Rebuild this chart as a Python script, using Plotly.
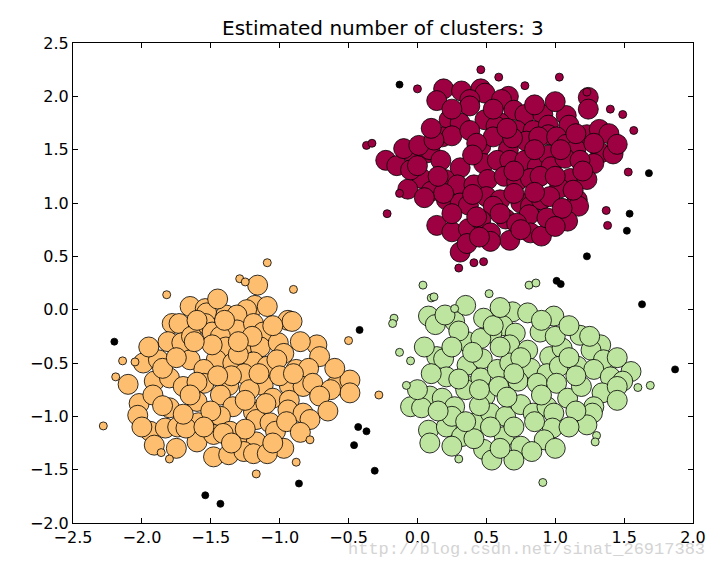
import plotly.graph_objects as go

# ---- data ----
red_core = [(0.19,2.07),(0.32,2.05),(0.46,2.07),(0.49,2.03),(0.14,1.96),(0.38,1.97),(0.38,1.91),(0.66,2.00),
            (0.61,1.97),(0.70,1.87),(0.78,1.83),(0.91,1.83),(1.08,1.82),(1.10,1.73),(1.24,1.99),(1.24,1.88),
            (0.23,1.78),(0.31,1.75),(0.49,1.78),(0.60,1.75),(0.57,1.72),(0.72,1.68),(0.84,1.68),(0.95,1.73),
            (0.95,1.64),(1.23,1.64),(1.32,1.69),(1.39,1.65),(1.33,1.47),(1.42,1.46),(1.28,1.37),(-0.23,1.40),
            (-0.15,1.35),(-0.03,1.46),(0.07,1.47),(0.09,1.50),(0.17,1.40),(0.18,1.62),(0.25,1.63),(0.38,1.68),
            (0.46,1.53),(0.55,1.62),(0.66,1.50),(0.79,1.58),(0.88,1.62),(1.01,1.62),(1.08,1.55),(1.15,1.50),
            (0.31,1.33),(0.48,1.37),(0.58,1.40),(0.67,1.40),(0.78,1.40),(0.87,1.34),(0.95,1.45),(0.97,1.34),
            (1.07,1.42),(0.03,1.23),(-0.07,1.13),(0.10,1.11),(0.20,1.22),(0.29,1.17),(0.41,1.17),(0.51,1.22),
            (0.63,1.25),(0.72,1.20),(0.82,1.23),(0.89,1.25),(1.11,1.23),(1.23,1.22),(1.03,1.14),(1.16,1.03),
            (1.17,0.97),(0.21,1.03),(0.31,1.00),(0.37,0.98),(0.50,1.06),(0.60,1.03),(0.55,0.97),(0.75,1.00),
            (0.82,0.97),(0.90,1.03),(0.96,1.06),(0.14,0.79),(0.25,0.73),(0.37,0.76),(0.46,0.84),(0.53,0.72),
            (0.64,0.85),(0.67,0.65),(0.81,0.89),(0.82,0.72),(0.90,0.69),(0.94,0.86),(1.09,0.83),(0.31,0.54),
            (0.53,0.64),(-0.10,1.51),(0.01,1.54),(0.12,1.59),(0.43,1.56),(0.69,1.61),(1.04,1.50),(1.18,1.40),
            (0.19,1.09),(0.70,1.09),(0.43,0.87),(0.72,0.81),(0.36,0.62),(1.13,1.12),(1.28,1.56),(-0.05,1.31),
            (0.25,1.88),(0.55,1.88),(0.85,1.92),(1.00,1.95),(0.10,1.70),(0.65,1.70),(1.15,1.65),(1.45,1.55),
            (0.00,1.35),(0.40,1.45),(0.85,1.50),(1.20,1.30),(0.15,1.25),(0.70,1.30),(1.00,1.25),(0.40,1.08),
            (0.85,1.10),(1.05,0.95),(0.25,0.90),(0.60,0.90),(0.75,0.75),(0.45,0.68),(1.00,0.78),(0.05,1.05)]
red_edge = [(0.46,2.25),(0.59,2.18),(1.03,2.18),(0.78,2.10),(0.00,2.07),(1.23,2.04),(1.40,1.88),(1.49,1.83),
            (1.57,1.68),(-0.37,1.54),(-0.33,1.56),(1.53,1.29),(-0.13,1.09),(-0.22,0.90),(1.37,0.93),(1.38,0.79),
            (0.30,0.39),(0.41,0.44),(0.48,0.45)]

orange_core = [(-1.16,0.23),(-1.18,0.04),(-1.09,0.03),(-1.24,0.00),(-1.65,0.03),(-1.54,0.01),(-1.53,-0.03),
               (-1.39,-0.05),(-1.31,-0.05),(-0.94,-0.10),(-0.91,-0.11),(-1.78,-0.13),(-1.73,-0.13),(-1.54,-0.13),
               (-1.49,-0.21),(-1.31,-0.19),(-1.19,-0.13),(-1.12,-0.21),(-1.81,-0.30),(-1.71,-0.31),(-1.64,-0.25),
               (-1.43,-0.25),(-1.39,-0.35),(-1.26,-0.33),(-1.14,-0.35),(-1.01,-0.31),(-0.97,-0.41),(-0.73,-0.33),
               (-0.71,-0.44),(-1.99,-0.50),(-1.88,-0.47),(-1.65,-0.47),(-1.46,-0.47),(-1.55,-0.56),(-1.34,-0.50),
               (-1.19,-0.49),(-1.09,-0.53),(-1.02,-0.47),(-0.88,-0.56),(-0.79,-0.55),(-1.91,-0.67),(-1.80,-0.64),
               (-1.70,-0.72),(-1.55,-0.69),(-1.37,-0.71),(-1.26,-0.60),(-1.12,-0.71),(-1.22,-0.75),(-0.93,-0.71),
               (-0.83,-0.72),(-0.76,-0.69),(-0.59,-0.71),(-0.49,-0.66),(-0.49,-0.78),(-0.63,-0.75),(-2.02,-0.88),
               (-2.03,-0.99),(-1.92,-0.80),(-1.80,-0.92),(-1.60,-0.86),(-1.43,-0.80),(-1.34,-0.91),(-1.19,-0.96),
               (-1.05,-0.83),(-0.93,-0.85),(-0.94,-0.94),(-0.83,-0.97),(-0.71,-0.81),(-0.78,-1.03),(-1.94,-1.14),
               (-1.83,-1.11),(-1.74,-1.10),(-1.59,-1.06),(-1.43,-1.00),(-1.17,-1.03),(-1.07,-1.06),(-1.91,-1.27),
               (-1.60,-1.24),(-1.48,-1.17),(-1.36,-1.14),(-1.26,-1.25),(-1.17,-1.24),(-1.03,-1.14),(-0.97,-1.30),
               (-1.48,-1.38),(-1.37,-1.36),(-1.26,-1.33),(-1.19,-1.35),(-1.09,-1.35),(-1.68,-1.11),(-1.41,-1.16),
               (-1.49,-0.33),(-1.30,-0.42),(-1.60,-0.68),(-1.35,-0.62),(-1.10,-0.88),(-1.50,-0.95),(-1.70,-0.98),
               (-1.25,-1.12),(-1.00,-0.62),(-1.62,-0.30),(-1.20,-0.25),(-1.85,-0.55),(-1.40,-0.10),(-0.85,-0.30),
               (-1.45,0.10),(-1.60,-0.10),(-1.05,-0.15),(-1.95,-0.35),(-1.75,-0.45),(-1.30,-0.30),(-0.60,-0.55),
               (-0.90,-0.60),(-2.10,-0.70),(-1.45,-0.62),(-1.15,-0.60),(-0.65,-0.95),(-1.85,-0.90),(-1.65,-0.80),
               (-1.25,-0.85),(-0.95,-1.05),(-2.00,-1.10),(-1.55,-1.10),(-1.75,-1.30),(-1.35,-1.25),(-1.05,-1.25),
               (-0.85,-1.15)]
orange_edge = [(-1.09,0.44),(-1.29,0.29),(-1.25,0.26),(-0.90,0.19),(-1.82,0.14),(-0.50,-0.29),(-2.14,-0.48),
               (-2.05,-0.49),(-2.19,-0.63),(-0.28,-0.80),(-2.28,-1.09),(-0.78,-1.22),(-1.86,-1.34),(-1.80,-1.40),
               (-0.88,-1.43),(-1.17,-1.54)]

green_core = [(0.08,-0.06),(0.13,-0.14),(0.27,-0.11),(0.35,0.04),(0.48,-0.08),(0.69,-0.02),(0.80,-0.03),
              (0.99,-0.06),(0.62,-0.15),(0.54,-0.22),(0.36,-0.30),(0.46,-0.27),(0.71,-0.22),(0.89,-0.21),
              (1.18,-0.24),(1.33,-0.33),(0.14,-0.44),(0.19,-0.46),(0.36,-0.52),(0.47,-0.46),(0.67,-0.33),
              (0.80,-0.38),(0.96,-0.44),(1.05,-0.36),(1.26,-0.38),(1.35,-0.47),(0.21,-0.63),(0.35,-0.71),
              (0.46,-0.64),(0.58,-0.56),(0.67,-0.50),(0.82,-0.55),(0.94,-0.60),(1.03,-0.53),(1.16,-0.53),
              (1.28,-0.56),(1.40,-0.63),(1.55,-0.58),(1.49,-0.67),(0.09,-0.81),(-0.05,-0.91),(0.03,-0.92),
              (0.18,-0.83),(0.27,-0.91),(0.35,-0.75),(0.49,-0.81),(0.59,-0.72),(0.73,-0.67),(0.87,-0.69),
              (1.01,-0.69),(1.09,-0.83),(1.19,-0.72),(1.34,-0.78),(1.28,-0.91),(1.27,-0.97),(1.23,-1.08),
              (0.08,-1.13),(0.09,-1.25),(0.21,-1.10),(0.32,-1.19),(0.42,-1.06),(0.53,-0.97),(0.64,-1.00),
              (0.75,-0.89),(0.84,-0.97),(0.94,-0.91),(0.99,-0.97),(0.98,-1.11),(0.92,-1.22),(0.63,-1.19),
              (0.53,-1.10),(0.75,-1.28),(0.48,-1.31),(0.54,-1.41),(0.70,-1.41),(0.83,-1.33),(0.41,-1.21),
              (0.60,-0.35),(0.75,-0.45),(0.40,-0.40),(0.90,-0.80),(0.45,-0.90),(1.10,-0.45),(0.30,-0.65),
              (0.65,-0.82),(0.85,-1.05),(0.55,-0.15),(1.00,-0.25),(0.25,-1.00),
              (0.20,-0.05),(0.60,0.02),(0.90,-0.10),(1.10,-0.15),(0.30,-0.20),(1.25,-0.25),(0.05,-0.35),
              (0.25,-0.35),(1.45,-0.45),(0.10,-0.60),(0.70,-0.60),(1.15,-0.62),(1.45,-0.72),(0.00,-0.75),
              (0.45,-0.75),(1.45,-0.85),(1.15,-0.95),(0.15,-0.95),(0.35,-1.05),(0.70,-1.10),(1.10,-1.10),
              (0.60,-1.30),(0.25,-1.28),(1.00,-1.30)]
green_edge = [(0.04,0.23),(0.81,0.23),(0.86,0.25),(0.10,0.11),(0.12,0.12),(0.52,0.15),(0.27,0.01),
              (-0.17,-0.08),(-0.18,-0.13),(-0.13,-0.40),(-0.05,-0.48),(-0.08,-0.71),(1.60,-0.73),(1.69,-0.71),
              (1.30,-1.18),(1.29,-1.24),(0.30,-1.40),(0.91,-1.62)]

noise = [(-0.13,2.11),(1.68,1.28),(1.54,0.90),(1.52,0.74),(1.23,0.50),(1.01,0.27),(1.04,0.24),
         (-2.20,-0.30),(-0.42,-0.19),(-0.43,-1.10),(-0.37,-1.14),(-0.46,-1.27),(-0.31,-1.51),(-0.86,-1.63),
         (-1.54,-1.74),(-1.43,-1.82),(1.63,0.05),(1.87,-0.56)]

cluster_colors = ["#9E0142", "#FDBF6F", "#BEE5A0"]
title_text = "Estimated number of clusters: 3"
watermark = "http://blog.csdn.net/sinat_26917383"
tick_vals = [-2.5, -2.0, -1.5, -1.0, -0.5, 0.0, 0.5, 1.0, 1.5, 2.0, 2.5]

fig = go.Figure()

def add(points, color, size):
    fig.add_trace(go.Scatter(
        x=[p[0] for p in points], y=[p[1] for p in points], mode="markers",
        marker=dict(size=size, color=color, line=dict(color="black", width=0.8)),
        showlegend=False, hoverinfo="skip"))

for core, edge, col in [(red_core, red_edge, cluster_colors[0]),
                        (orange_core, orange_edge, cluster_colors[1]),
                        (green_core, green_edge, cluster_colors[2])]:
    add(core, col, 20)
    add(edge, col, 8)
add(noise, "black", 7)

axis_common = dict(showgrid=False, zeroline=False, showline=True, linecolor="black", linewidth=1,
                   mirror="ticks", ticks="inside", ticklen=5, tickcolor="black", tickwidth=1,
                   tickvals=tick_vals, tickformat=".1f", automargin=False,
                   tickfont=dict(family="DejaVu Sans", size=16, color="black"))

# the page body adds an 8px offset, so the figure is 8px smaller than the window
fig.update_layout(
    width=712, height=561,
    margin=dict(l=65, r=27, t=35, b=46),
    paper_bgcolor="white", plot_bgcolor="white",
    xaxis=dict(range=[-2.5, 2.0], **axis_common),
    yaxis=dict(range=[-2.0, 2.5], **axis_common),
    annotations=[
        dict(text=title_text, xref="paper", yref="paper", x=0.5, y=1, yanchor="bottom",
             yshift=1, showarrow=False, font=dict(family="DejaVu Sans", size=20, color="black")),
        dict(text=watermark, xref="paper", yref="paper", x=1.0, y=0,
             xanchor="right", yanchor="middle", xshift=14, yshift=-26, showarrow=False,
             font=dict(family="Liberation Mono", size=17, color="#d4d4d4")),
    ],
)

fig.write_html("out.html")
